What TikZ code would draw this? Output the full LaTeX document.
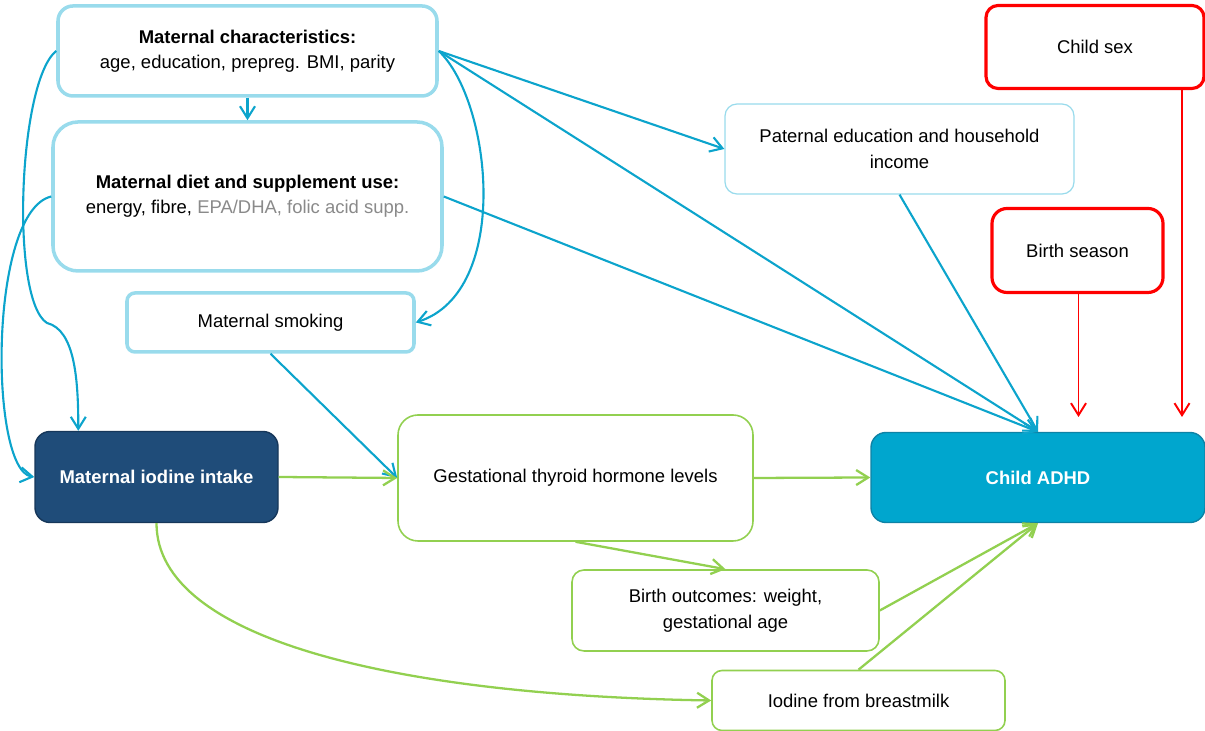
\documentclass[tikz,border=0pt]{standalone}
\usepackage{fontspec}
\setmainfont{Liberation Sans}
\usetikzlibrary{arrows.meta}

\definecolor{lineblue}{RGB}{12,164,204}
\definecolor{boxblue}{RGB}{153,219,236}
\definecolor{adhdblue}{RGB}{0,166,206}
\definecolor{adhdedge}{RGB}{14,130,165}
\definecolor{iodblue}{RGB}{31,76,121}
\definecolor{iodedge}{RGB}{22,55,90}
\definecolor{linegreen}{RGB}{146,208,80}
\definecolor{linered}{RGB}{255,0,0}
\definecolor{suppgray}{RGB}{138,138,138}

\begin{document}
\begin{tikzpicture}
[font=\fontsize{10.5}{14.5}\selectfont, line width=1.1pt,
>={Straight Barb[length=2.4mm, width=3mm]},
confbox/.style={rectangle, draw=boxblue, line width=2pt, align=center, fill=white},
thinbox/.style={rectangle, draw=boxblue, line width=0.7pt, align=center, fill=white},
greenbox/.style={rectangle, draw=linegreen, line width=0.9pt, align=center, fill=white},
redbox/.style={rectangle, draw=linered, line width=1.8pt, align=center, fill=white},
exposure/.style={rectangle, draw=iodedge, line width=0.8pt, fill=iodblue, text=white, font=\fontsize{10.5}{14.5}\selectfont\bfseries},
outcome/.style={rectangle, draw=adhdedge, line width=0.8pt, fill=adhdblue, text=white, font=\fontsize{10.5}{14.5}\selectfont\bfseries},
bluearr/.style={->, draw=lineblue, line width=1.2pt},
greenarr/.style={->, draw=linegreen, line width=1.3pt},
redarr/.style={->, draw=linered, line width=1.1pt}]

\useasboundingbox (0,0) rectangle (24.10,14.62);

\node[confbox, rounded corners=3mm, minimum width=7.58cm, minimum height=1.80cm] (matchar) at (4.95,13.60) {\textbf{Maternal characteristics:}\\age, education, prepreg. BMI, parity};
\node[confbox, rounded corners=5mm, minimum width=7.78cm, minimum height=2.98cm] (matdiet) at (4.95,10.69) {\textbf{Maternal diet and supplement use:}\\energy, fibre, \textcolor{suppgray}{EPA/DHA, folic acid supp.}};
\node[confbox, rounded corners=1.6mm, minimum width=5.74cm, minimum height=1.18cm] (smoking) at (5.41,8.17) {Maternal smoking};
\node[thinbox, rounded corners=2.4mm, minimum width=6.98cm, minimum height=1.80cm] (paternal) at (17.99,11.64) {Paternal education and household\\income};
\node[redbox, rounded corners=2.4mm, minimum width=4.36cm, minimum height=1.66cm] (childsex) at (21.90,13.68) {Child sex};
\node[redbox, rounded corners=3mm, minimum width=3.42cm, minimum height=1.68cm] (season) at (21.55,9.61) {Birth season};

\node[exposure, rounded corners=3mm, minimum width=4.86cm, minimum height=1.82cm] (iodine) at (3.13,5.08) {Maternal iodine intake};
\node[greenbox, rounded corners=4mm, minimum width=7.10cm, minimum height=2.52cm] (gest) at (11.51,5.06) {Gestational thyroid hormone levels};
\node[outcome, rounded corners=3mm, minimum width=6.68cm, minimum height=1.80cm] (adhd) at (20.76,5.07) {Child ADHD};
\node[greenbox, rounded corners=2.4mm, minimum width=6.14cm, minimum height=1.62cm] (birthout) at (14.51,2.41) {Birth outcomes: weight,\\gestational age};
\node[greenbox, rounded corners=2mm, minimum width=5.86cm, minimum height=1.20cm] (breastmilk) at (17.17,0.61) {Iodine from breastmilk};

\coordinate (bendA) at (0.94,8.16);
\coordinate (sexin) at (23.64,6.28);
\coordinate (seasonin) at (21.57,6.28);

\draw[bluearr] (matchar.south) -- (matdiet.north);
\draw[bluearr] (matchar.east) -- (paternal.west);
\draw[bluearr] (matchar.east) -- (adhd.north);
\draw[bluearr] (matchar.east) .. controls +(1.06,-1.0) and +(1.92,0.62) .. (smoking.east);
\draw[bluearr] (matchar.west) .. controls +(-0.76,-0.60) and +(-0.74,0.46) .. (bendA)
  .. controls +(0.56,-0.14) and +(0,1.02) .. ([xshift=0.88cm]iodine.north west);
\draw[bluearr] (matdiet.west) .. controls +(-1.26,-0.30) and +(-0.9,0.14) .. (iodine.west);
\draw[bluearr] (matdiet.east) -- (adhd.north);
\draw[bluearr] (smoking.south) -- (gest.west);
\draw[bluearr] (paternal.south) -- (adhd.north);

\draw[greenarr] (iodine.east) -- (gest.west);
\draw[greenarr] (gest.east) -- (adhd.west);
\draw[greenarr] (gest.south) -- (birthout.north);
\draw[greenarr] (iodine.south) .. controls +(0,-2.36) and +(-6.2,0.1) .. (breastmilk.west);
\draw[greenarr] (birthout.east) -- (adhd.south);
\draw[greenarr] (breastmilk.north) -- (adhd.south);

\draw[redarr] (sexin |- childsex.south) -- (sexin);
\draw[redarr] (seasonin |- season.south) -- (seasonin);
\end{tikzpicture}
\end{document}
